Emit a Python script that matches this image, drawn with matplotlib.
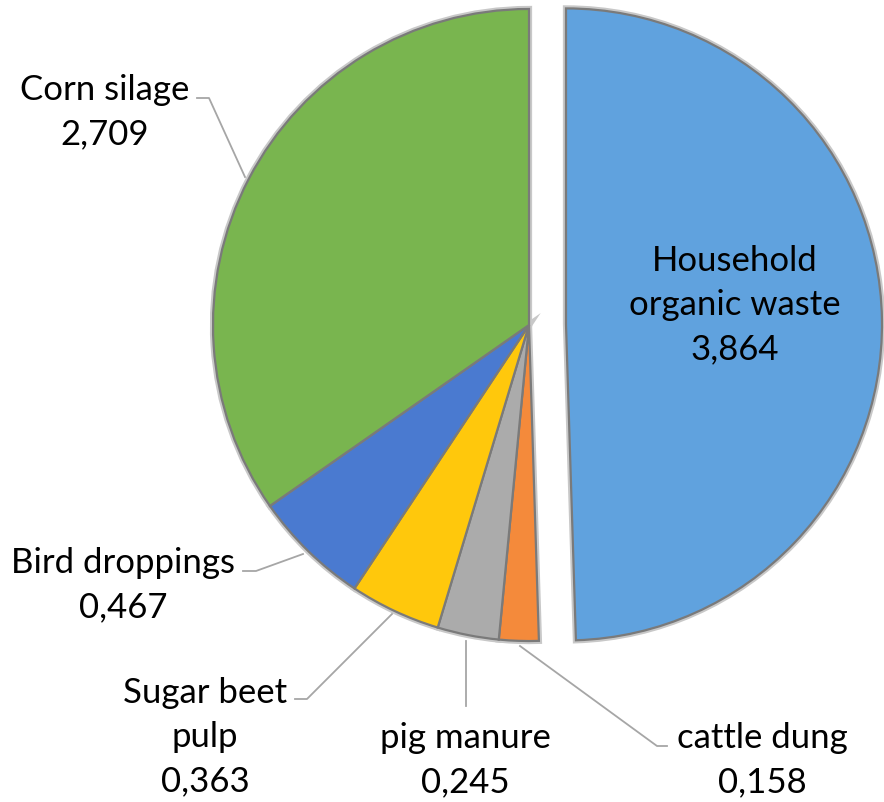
import matplotlib
import matplotlib.pyplot as plt

matplotlib.use('Agg')

# 数据
labels = ['Household\norganic waste', 'cattle dung', 'pig manure',
          'Sugar beet\npulp', 'Bird droppings', 'Corn silage']
values = [3.864, 0.158, 0.245, 0.363, 0.467, 2.709]
value_text = ['3,864', '0,158', '0,245', '0,363', '0,467', '2,709']
colors = ['#60A2DE', '#F48A3B', '#ABABAB', '#FFC80C', '#4A7AD0', '#79B54F']

W, H = 884, 803


def py(y):
    # 图片坐标(向下) -> 数据坐标(向上)
    return H - y


fig = plt.figure(figsize=(W / 100, H / 100), dpi=100)
ax = fig.add_axes([0, 0, 1, 1])
ax.set_xlim(0, W)
ax.set_ylim(0, H)
ax.set_aspect('equal')
ax.axis('off')

R = 316
explode = [37, 0, 0, 0, 0, 0]  # pie 的 explode 单位是数据坐标
# 外圈浅灰光晕
ax.pie(values, colors=['none'] * 6, startangle=90, counterclock=False,
       explode=explode, center=(529, py(326)), radius=R,
       wedgeprops=dict(edgecolor='#c8c8c8', linewidth=4.5))
wedges, _ = ax.pie(values, colors=colors, startangle=90, counterclock=False,
                   explode=explode, center=(529, py(326)), radius=R,
                   wedgeprops=dict(edgecolor='#7a7a7a', linewidth=1.6))
ax.set_xlim(0, W)
ax.set_ylim(0, H)

font = 'Lato'
fs = 25

# 标签位置 (图片坐标)
label_pos = [(735, 305), (762, 760), (465, 760), (205, 737), (123, 585), (105, 112)]
for lab, vt, (x, y) in zip(labels, value_text, label_pos):
    ax.text(x, py(y), lab + '\n' + vt, ha='center', va='center',
            fontsize=fs, family=font, linespacing=1.48, color='black')

# 引导线
leaders = [
    [(197, 99), (209, 99), (245, 178)],
    [(243, 572), (256, 572), (303, 555)],
    [(295, 700), (307, 700), (392, 615)],
    [(466, 707), (466, 642)],
    [(667, 747), (657, 747), (520, 647)],
]
for pts in leaders:
    ax.plot([p[0] for p in pts], [py(p[1]) for p in pts], color='#a6a6a6', lw=1.3)

fig.savefig('out.png', dpi=100)
